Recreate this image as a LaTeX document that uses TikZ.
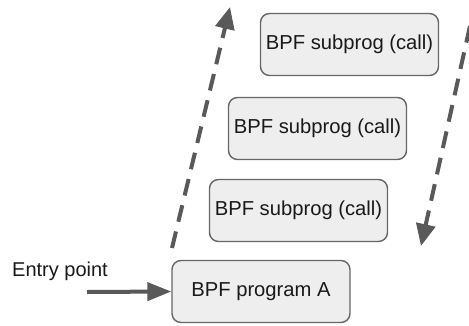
\documentclass[tikz,border=0pt]{standalone}
\usepackage{fontspec}
\setmainfont{Liberation Sans}
\usetikzlibrary{arrows.meta}
\definecolor{linegray}{HTML}{595959}
\definecolor{boxfill}{HTML}{EEEEEE}
\definecolor{boxline}{HTML}{666666}
\begin{document}
\begin{tikzpicture}[x=1pt,y=-1pt,
  prog/.style={draw=boxline, line width=1.4pt, fill=boxfill, rounded corners=9pt,
    minimum width=178pt, minimum height=62pt, inner sep=0pt,
    font=\fontsize{20.2}{23}\selectfont, text=black!90},
  flow/.style={draw=linegray, line width=4pt, dash pattern=on 17pt off 10pt,
    -{Triangle[length=22pt,width=19pt]}},
  entry/.style={draw=linegray, line width=4pt, -{Triangle[length=24pt,width=18pt]}}
]
\useasboundingbox (0,0) rectangle (469,325);
\node[prog] (a) at (261,291.5) {BPF program A};
\node[prog] (s1) at (298.5,210.5) {BPF subprog (call)};
\node[prog] (s2) at (317.5,128.5) {BPF subprog (call)};
\node[prog] (s3) at (349.5,44.5) {BPF subprog (call)};
\node[font=\fontsize{20}{23}\selectfont, text=black!90] (ep) at (60,271) {Entry point};
\coordinate (es) at (87,292);
\draw[entry] (es) -- (a.west);
\coordinate (l0) at (172,248);
\coordinate (l1) at (230,7);
\draw[flow] (l0) -- (l1);
\coordinate (r0) at (470,26);
\coordinate (r1) at (421,246);
\draw[flow] (r0) -- (r1);
\end{tikzpicture}
\end{document}
